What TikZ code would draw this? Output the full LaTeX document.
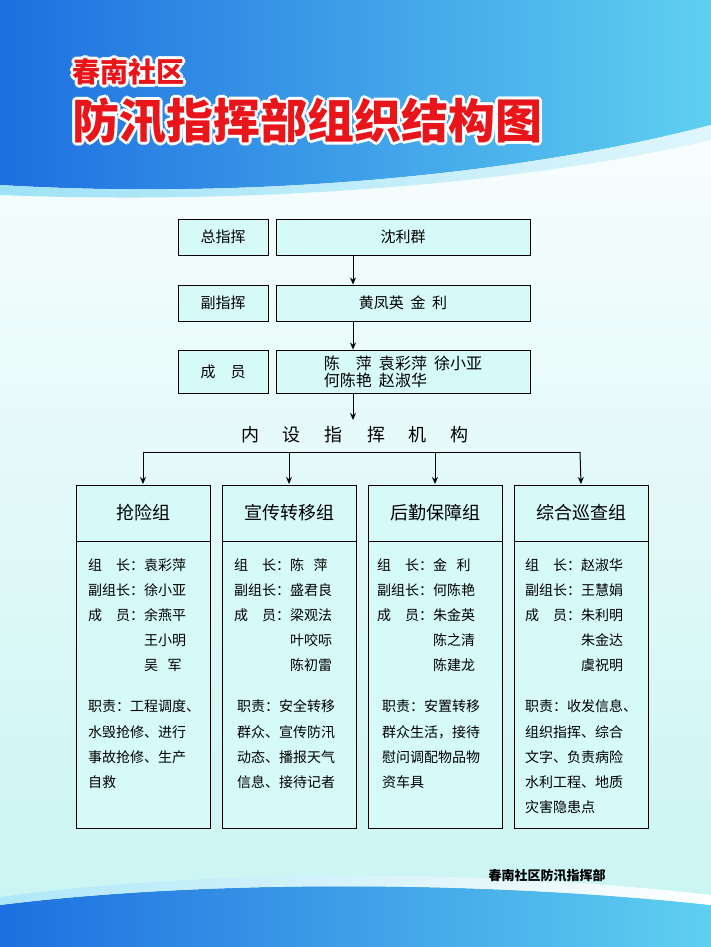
\documentclass[tikz,border=0pt]{standalone}
\usepackage{fontspec}
\setmainfont{Noto Sans CJK SC}
\usetikzlibrary{arrows.meta}
\definecolor{bgc}{HTML}{C8F4F2}
\definecolor{bannerA}{HTML}{1E6FE0}
\definecolor{bannerB}{HTML}{5FD0F0}
\definecolor{boxfill}{HTML}{D6FAF8}
\definecolor{titred}{HTML}{E8161B}
\tikzset{
  lbl/.style={draw=black,line width=1pt,fill=boxfill,font=\fontsize{15}{18}\selectfont},
  grp/.style={draw=black,line width=1pt,fill=boxfill},
  conn/.style={line width=1pt,-{Stealth[length=7pt,width=6pt]}},
  txt/.style={anchor=west,inner sep=0pt,font=\fontsize{14}{17}\selectfont},
  ghead/.style={inner sep=0pt,font=\fontsize{18}{20}\selectfont},
}
\begin{document}
\begin{tikzpicture}[x=1pt,y=-1pt]
\useasboundingbox (0,0) rectangle (711,947);
% background
\shade[top color=white,bottom color=bgc] (0,0) rectangle (711,947);
\shade[left color=bannerA,right color=bannerB] (0,0) -- (711,0) -- (711,125) .. controls (520,175) and (250,200) .. (0,185) -- cycle;
\shade[left color=bannerB!60,right color=white!80!bannerB] (0,185) .. controls (250,200) and (520,175) .. (711,125) -- (711,140) .. controls (520,185) and (250,205) .. (0,195) -- cycle;
\shade[left color=bannerA,right color=bannerB] (0,947) -- (0,905) .. controls (200,880) and (480,880) .. (711,905) -- (711,947) -- cycle;
\shade[left color=bannerB!50,right color=white] (0,905) .. controls (200,880) and (480,880) .. (711,905) -- (711,895) .. controls (480,868) and (200,870) .. (0,897) -- cycle;
% title
\foreach \dx/\dy in {-2/-2,2/-2,-2/2,2/2,0/-3,0/3,-3/0,3/0}{
  \node[anchor=west,inner sep=0pt,text=white,font=\bfseries\fontsize{28}{30}\selectfont] at (72+\dx,72+\dy) {春南社区};
  \node[anchor=west,inner sep=0pt,text=white,font=\bfseries\fontsize{47}{50}\selectfont] at (72+\dx,121+\dy) {防汛指挥部组织结构图};
}
\node[anchor=west,inner sep=0pt,text=titred,font=\bfseries\fontsize{28}{30}\selectfont] (t1) at (72,72) {春南社区};
\node[anchor=west,inner sep=0pt,text=titred,font=\bfseries\fontsize{47}{50}\selectfont] (t2) at (72,121) {防汛指挥部组织结构图};
% top boxes
\node[lbl,minimum width=90,minimum height=36] (l1) at (223,237) {总指挥};
\node[lbl,minimum width=254,minimum height=36] (n1) at (403,237) {沈利群};
\node[lbl,minimum width=90,minimum height=36] (l2) at (223,303) {副指挥};
\node[lbl,minimum width=254,minimum height=36] (n2) at (403,303) {黄凤英\ \ 金\ \ 利};
\node[lbl,minimum width=90,minimum height=43] (l3) at (223,371.5) {成\quad 员};
\node[lbl,minimum width=254,minimum height=43,align=left,font=\fontsize{16}{17}\selectfont] (n3) at (403,371.5) {陈\quad 萍\ \ 袁彩萍\ \ 徐小亚\\何陈艳\ \ 赵淑华};
\draw[conn] ([xshift=-50pt]n1.south) -- ([xshift=-50pt]n2.north);
\draw[conn] ([xshift=-50pt]n2.south) -- ([xshift=-50pt]n3.north);
\node[inner sep=0pt,font=\fontsize{18}{20}\selectfont] (hd) at (355,435) {内\hspace{24pt}设\hspace{24pt}指\hspace{24pt}挥\hspace{24pt}机\hspace{24pt}构};
\coordinate (hj) at (353,420);
\draw[conn] ([xshift=-50pt]n3.south) -- (hj);
\coordinate (bl) at (143,452);
\coordinate (br) at (580,452);
\draw[line width=1pt] (bl) -- (br);
% groups
\foreach \i/\x/\name in {1/76/抢险组,2/222/宣传转移组,3/368/后勤保障组,4/514/综合巡查组}{
  \draw[grp] (\x,485) rectangle (\x+134,828);
  \node[ghead] (gh\i) at (\x+67,513) {\name};
  \coordinate (gt\i) at (\x+67,484);
  \draw[line width=1pt] (\x,541) -- (\x+134,541);
}
\draw[conn] (bl) -- (gt1);
\draw[conn] (289,452) -- (gt2);
\draw[conn] (435,452) -- (gt3);
\draw[conn] (br) -- (gt4);
\newcommand\pz{\phantom{副组长：}}
% group 1
\node[txt] (a1) at (88,565) {组\quad 长：袁彩萍};
\node[txt] (a2) at (88,590) {副组长：徐小亚};
\node[txt] (a3) at (88,615) {成\quad 员：余燕平};
\node[txt] (a4) at (88,640) {\pz 王小明};
\node[txt] (a5) at (88,665) {\pz 吴\ \ \ 军};
\node[txt] (a6) at (88,706) {职责：工程调度、};
\node[txt] (a7) at (88,732) {水毁抢修、进行};
\node[txt] (a8) at (88,757) {事故抢修、生产};
\node[txt] (a9) at (88,782) {自救};
% group 2
\node[txt] (b1) at (234,565) {组\quad 长：陈\ \ \ 萍};
\node[txt] (b2) at (234,590) {副组长：盛君良};
\node[txt] (b3) at (234,615) {成\quad 员：梁观法};
\node[txt] (b4) at (234,640) {\pz 叶咬呩};
\node[txt] (b5) at (234,665) {\pz 陈初雷};
\node[txt] (b6) at (237,706) {职责：安全转移};
\node[txt] (b7) at (237,732) {群众、宣传防汛};
\node[txt] (b8) at (237,757) {动态、播报天气};
\node[txt] (b9) at (237,782) {信息、接待记者};
% group 3
\node[txt] (c1) at (377,565) {组\quad 长：金\ \ \ 利};
\node[txt] (c2) at (377,590) {副组长：何陈艳};
\node[txt] (c3) at (377,615) {成\quad 员：朱金英};
\node[txt] (c4) at (377,640) {\pz 陈之清};
\node[txt] (c5) at (377,665) {\pz 陈建龙};
\node[txt] (c6) at (382,706) {职责：安置转移};
\node[txt] (c7) at (382,732) {群众生活，接待};
\node[txt] (c8) at (382,757) {慰问调配物品物};
\node[txt] (c9) at (382,782) {资车具};
% group 4
\node[txt] (d1) at (525,565) {组\quad 长：赵淑华};
\node[txt] (d2) at (525,590) {副组长：王慧娟};
\node[txt] (d3) at (525,615) {成\quad 员：朱利明};
\node[txt] (d4) at (525,640) {\pz 朱金达};
\node[txt] (d5) at (525,665) {\pz 虞祝明};
\node[txt] (d6) at (525,706) {职责：收发信息、};
\node[txt] (d7) at (525,732) {组织指挥、综合};
\node[txt] (d8) at (525,757) {文字、负责病险};
\node[txt] (d9) at (525,782) {水利工程、地质};
\node[txt] (d10) at (525,807) {灾害隐患点};
\node[inner sep=0pt,font=\bfseries\fontsize{13}{15}\selectfont] (ft) at (547,876) {春南社区防汛指挥部};
\end{tikzpicture}
\end{document}
